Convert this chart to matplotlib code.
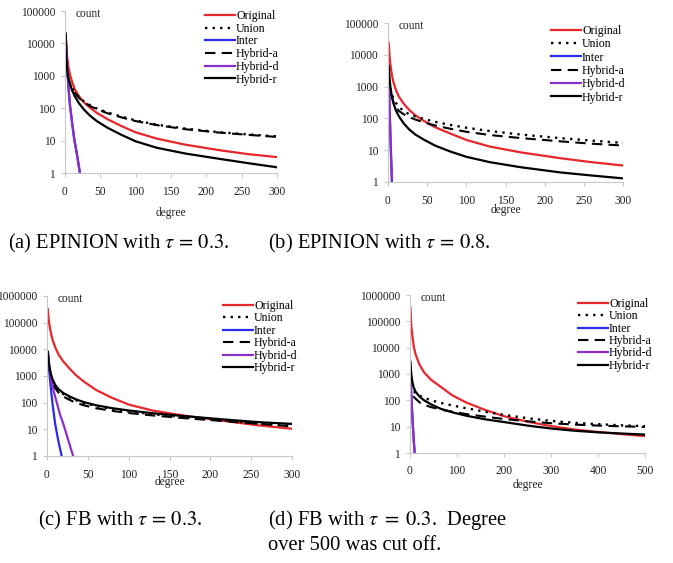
import numpy as np
import matplotlib
matplotlib.use("Agg")
import matplotlib.pyplot as plt
from matplotlib.ticker import FuncFormatter

plt.rcParams['font.family'] = ['Liberation Serif', 'DejaVu Serif']
plt.rcParams['mathtext.fontset'] = 'stix'

labels = ["Original", "Union", "Inter", "Hybrid-a", "Hybrid-d", "Hybrid-r"]

# (a) EPINION tau=0.3
deg_a = [1, 2, 3, 5, 7, 10, 14, 20, 27, 35, 45, 60, 80, 100, 130, 170, 220, 260, 300]
orig_a = [20000, 7000, 3800, 1800, 1100, 650, 380, 230, 150, 105, 72, 46, 28, 18, 11.5, 7.5, 5.0, 3.8, 3.1]
union_a = [3200, 1800, 1250, 800, 590, 430, 310, 215, 160, 125, 98, 74, 55, 42, 31, 23.5, 18, 15.5, 13.5]
hyba_a = [3000, 1700, 1180, 760, 560, 410, 295, 205, 152, 118, 93, 70, 52, 40, 30, 22.5, 17.5, 15, 13]
hybr_a = [20000, 3500, 1500, 800, 560, 360, 230, 140, 90, 60, 40, 25, 15, 9.5, 6, 4, 2.7, 2.0, 1.5]
steep_a = [1, 3, 5, 7, 10, 13, 17, 21]
inter_a = [17000, 1800, 400, 120, 35, 11, 3.5, 1]
hybd_a = [17000, 2000, 450, 130, 38, 12, 3.8, 1.1]

# (b) EPINION tau=0.8
deg_b = [1, 2, 3, 5, 7, 10, 14, 20, 27, 35, 45, 60, 80, 100, 130, 170, 220, 260, 300]
orig_b = [23000, 9000, 5000, 2300, 1350, 800, 480, 290, 185, 125, 85, 53, 33, 21, 13, 8.5, 5.6, 4.2, 3.3]
union_b = [1500, 1100, 850, 560, 420, 310, 230, 170, 135, 115, 97, 78, 62, 51, 40, 31, 24, 20, 17]
hyba_b = [2000, 1100, 750, 450, 320, 230, 170, 135, 110, 92, 76, 60, 47, 38, 30, 24, 19, 16, 14]
hybr_b = [4500, 1800, 1000, 480, 300, 180, 115, 70, 45, 31, 22, 14, 9, 6.2, 4.2, 2.9, 2.0, 1.6, 1.3]
steep_b = [1, 2, 3, 4, 5]
inter_b = [1300, 200, 30, 5, 1]
hybd_b = [1300, 250, 40, 6, 1.2]

# (c) FB tau=0.3
deg_c = [1, 2, 3, 5, 7, 10, 14, 20, 27, 35, 45, 60, 80, 100, 130, 170, 220, 260, 300]
orig_c = [320000, 140000, 80000, 38000, 22000, 12000, 6500, 3500, 2000, 1100, 620, 300, 150, 85, 50, 32, 20, 14, 10.5]
union_c = [8000, 3500, 2000, 1000, 650, 420, 290, 210, 160, 125, 98, 75, 58, 47, 37, 28, 21, 16.5, 13.5]
hyba_c = [8000, 3300, 1800, 850, 540, 350, 240, 170, 130, 100, 80, 62, 49, 41, 33, 26, 20, 16, 13]
hybr_c = [8000, 3800, 2200, 1100, 720, 470, 320, 230, 175, 135, 105, 80, 62, 51, 40, 31, 23, 18.5, 16]
steep_c = [1, 2, 3, 5, 7, 10, 14, 18]
inter_c = [8000, 3000, 1200, 280, 80, 16, 3.5, 1]
steep_c2 = [1, 2, 3, 5, 8, 12, 16, 20, 25, 32]
hybd_c = [8000, 3800, 2000, 800, 280, 100, 35, 16, 5, 1]

# (d) FB tau=0.3, degree up to 500
deg_d = [1, 2, 3, 5, 8, 12, 20, 30, 45, 65, 90, 120, 160, 200, 250, 300, 350, 400, 450, 500]
orig_d = [320000, 120000, 60000, 28000, 11000, 5500, 2300, 1150, 600, 330, 155, 82, 43, 25, 15.5, 10.5, 7.8, 6.3, 5.2, 4.4]
union_d = [800, 600, 470, 320, 230, 180, 150, 125, 100, 80, 64, 50, 37, 28, 21, 16.5, 14, 12.5, 11.2, 10.5]
hyba_d = [600, 300, 220, 160, 135, 115, 85, 68, 55, 45, 37, 30, 24, 19.5, 16, 13.5, 12, 11, 10.3, 9.8]
hybr_d = [2900, 1500, 900, 500, 300, 210, 140, 100, 70, 48, 35, 26, 19, 15, 11, 8.5, 7, 6.1, 5.5, 5]
steep_d = [1, 2, 4, 6, 8, 10]
inter_d = [800, 300, 60, 12, 3, 1]
hybd_d = [700, 280, 55, 11, 2.8, 1]

yticks_ab = [1, 10, 100, 1000, 10000, 100000]
yticks_cd = [1, 10, 100, 1000, 10000, 100000, 1000000]

captions = [r"(a) EPINION with $\tau\,=\,0.3$.",
            r"(b) EPINION with $\tau\,=\,0.8$.",
            r"(c) FB with $\tau\,=\,0.3$.",
            r"(d) FB with $\tau\;=\;0.3$.  Degree",
            "over 500 was cut off."]

RED = "#e8262b"
BLUE = "#2b2bef"
PURPLE = "#8b2fc9"
W, H = 673, 563
FS = 8.3

fig = plt.figure(figsize=(W / 100, H / 100), dpi=100)


def px_axes(left, top, right, bottom):
    return fig.add_axes([left / W, 1 - bottom / H, (right - left) / W, (bottom - top) / H])


def draw_panel(ax, deg, orig, union, hyba, hybr, steep, inter, steep2, hybd,
               yticks, xmax, xstep, legend_xy, spacing):
    ax.plot(deg, orig, color=RED, lw=1.6, label=labels[0])
    ax.plot(deg, union, color="black", lw=1.7, ls=(0, (1, 2.2)), label=labels[1])
    ax.plot(steep, inter, color=BLUE, lw=1.6, label=labels[2])
    ax.plot(deg, hyba, color="black", lw=1.5, ls=(0, (5, 3)), label=labels[3])
    ax.plot(steep2, hybd, color=PURPLE, lw=1.6, label=labels[4])
    ax.plot(deg, hybr, color="black", lw=1.6, label=labels[5])
    ax.set_yscale("log")
    ax.set_ylim(yticks[0], yticks[-1])
    ax.set_yticks(yticks)
    ax.yaxis.set_major_formatter(FuncFormatter(lambda v, p: f"{int(round(v))}"))
    ax.minorticks_off()
    ax.set_xlim(0, xmax)
    ax.set_xticks(np.arange(0, xmax + 1, xstep))
    for s in ["top", "right"]:
        ax.spines[s].set_visible(False)
    for s in ["left", "bottom"]:
        ax.spines[s].set_color("#c8c8c8")
        ax.spines[s].set_linewidth(0.8)
    ax.tick_params(colors="#c8c8c8", labelcolor="#222222", labelsize=FS,
                   length=3, width=0.8)
    ax.tick_params(axis="x", pad=6)
    ax.tick_params(axis="y", pad=4)
    ax.annotate("count", xy=(0, 1), xycoords="axes fraction", xytext=(11, -3),
                textcoords="offset pixels", ha="left", va="center",
                fontsize=FS, color="#222222")
    fig.legend(handles=ax.get_lines(), loc="upper left",
               bbox_to_anchor=(legend_xy[0] / W, 1 - legend_xy[1] / H),
               frameon=False, fontsize=FS + 0.3, handlelength=2.5, handletextpad=0.1,
               labelspacing=spacing, borderpad=0, borderaxespad=0)


ax_a = px_axes(65, 11, 277, 173)
draw_panel(ax_a, deg_a, orig_a, union_a, hyba_a, hybr_a, steep_a, inter_a,
           steep_a, hybd_a, yticks_ab, 300, 50, (205, 10), 0.06)
ax_a.set_xlabel("degree", fontsize=FS, color="#222222", labelpad=7)

ax_b = px_axes(388, 23, 623, 182)
draw_panel(ax_b, deg_b, orig_b, union_b, hyba_b, hybr_b, steep_b, inter_b,
           steep_b, hybd_b, yticks_ab, 300, 50, (551, 25), 0.11)
ax_b.set_xlabel("degree", fontsize=FS, color="#222222", labelpad=-2)

ax_c = px_axes(47, 296, 292, 456)
draw_panel(ax_c, deg_c, orig_c, union_c, hyba_c, hybr_c, steep_c, inter_c,
           steep_c2, hybd_c, yticks_cd, 300, 50, (223, 300), 0.04)
ax_c.set_xlabel("degree", fontsize=FS, color="#222222", labelpad=-3)

ax_d = px_axes(410, 295, 645, 453)
draw_panel(ax_d, deg_d, orig_d, union_d, hyba_d, hybr_d, steep_d, inter_d,
           steep_d, hybd_d, yticks_cd, 500, 100, (578, 298), 0.03)
ax_d.set_xlabel("degree", fontsize=FS, color="#222222", labelpad=1)

cap_pos = [(8, 243), (268, 243), (38, 520), (268, 520), (268, 545)]
for (x, y), txt in zip(cap_pos, captions):
    fig.text(x / W, 1 - y / H, txt, ha="left", va="center", fontsize=14.8)

fig.savefig("out.png", dpi=100)
